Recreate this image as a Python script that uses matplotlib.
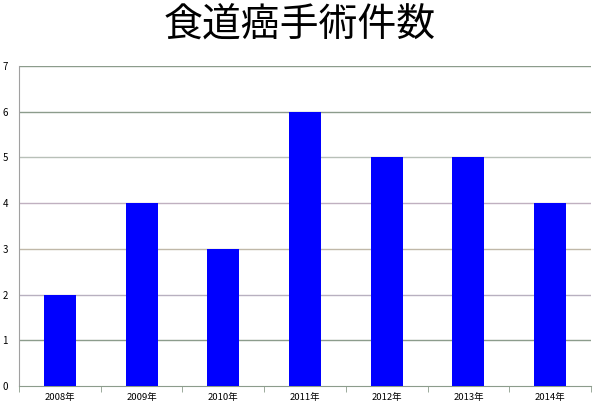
import matplotlib
matplotlib.use("Agg")
import matplotlib.pyplot as plt
from matplotlib.ticker import FixedLocator, NullFormatter

plt.rcParams['font.family'] = ['Noto Sans CJK JP', 'DejaVu Sans']

title = "食道癌手術件数"
years = ["2008年", "2009年", "2010年", "2011年", "2012年", "2013年", "2014年"]
counts = [2, 4, 3, 6, 5, 5, 4]

fig = plt.figure(figsize=(6, 4.09), dpi=100, facecolor="white")
ax = fig.add_axes([19/600, 1 - 386/409, 572/600, 320/409])

x = range(len(years))
ax.bar(x, counts, width=0.39, color="#0000ff", zorder=3)

ax.set_xlim(-0.5, len(years) - 0.5)
ax.set_ylim(0, 7)
ax.set_yticks(range(0, 8))
ax.set_xticks(list(x))
ax.set_xticklabels(years)
ax.xaxis.set_minor_locator(FixedLocator([i - 0.5 for i in range(len(years) + 1)]))
ax.xaxis.set_minor_formatter(NullFormatter())
ax.tick_params(axis="x", which="major", length=0, labelsize=6.8, pad=5)
ax.tick_params(axis="x", which="minor", length=4, color="#8c9c8c", direction="out")
ax.tick_params(axis="y", length=0, labelsize=7, pad=8)

grid_colors = ["#8c9c8c", "#8c9c8c", "#b8b0c0", "#c0b8a8", "#c0b0c0", "#b8c0b8", "#8c9c8c", "#8c9c8c"]
for v, c in zip(range(1, 8), grid_colors[1:]):
    ax.axhline(v, color=c, linewidth=1, zorder=1)

for side in ["top", "right"]:
    ax.spines[side].set_visible(False)
ax.spines["left"].set_color("#a0a0a0")
ax.spines["bottom"].set_color("#8c9c8c")

fig.text(0.5, 1 - 26/409, title, ha="center", va="center", fontsize=28)

fig.savefig("out.png", dpi=100)
